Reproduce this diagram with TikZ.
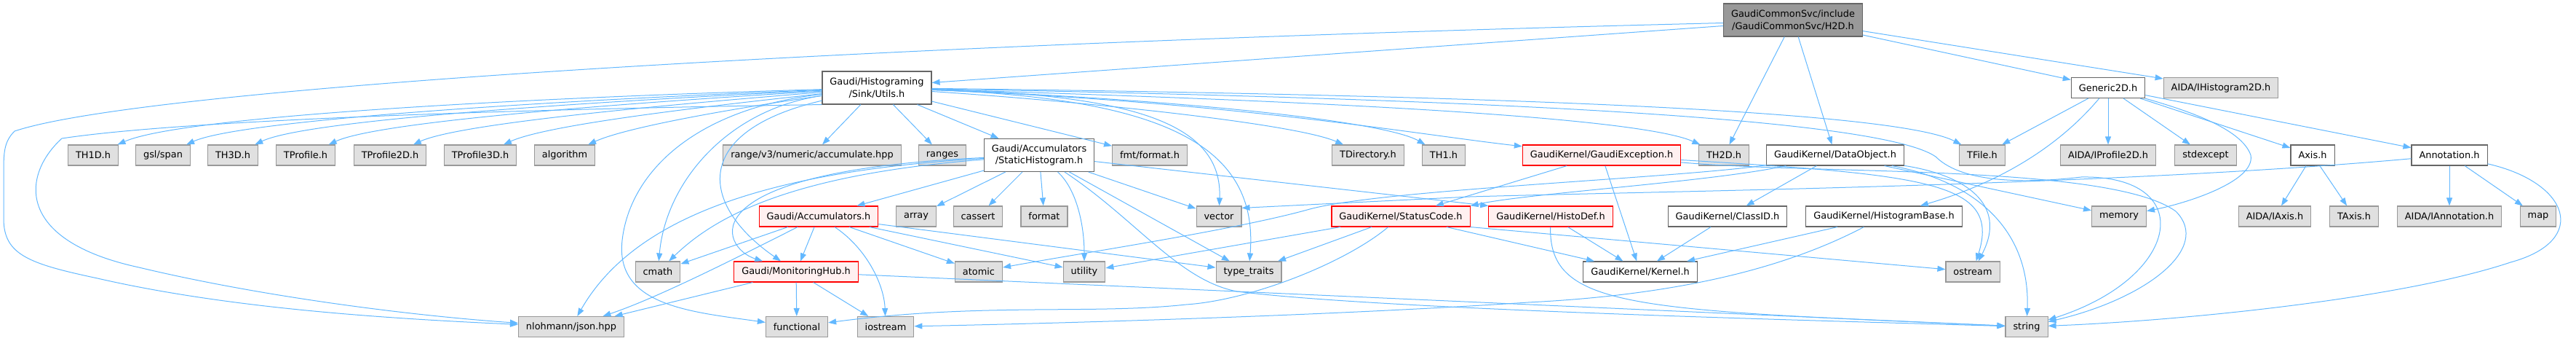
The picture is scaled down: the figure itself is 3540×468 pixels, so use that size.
\documentclass[tikz,border=0pt]{standalone}
\usepackage{fontspec}
\setmainfont{DejaVu Sans}
\usetikzlibrary{arrows.meta}
\definecolor{edgeblue}{HTML}{63B8FF}
\definecolor{rootfill}{HTML}{999999}
\definecolor{rootdraw}{HTML}{666666}
\definecolor{sysfill}{HTML}{E0E0E0}
\definecolor{sysdraw}{HTML}{999999}
\definecolor{truncfill}{HTML}{FFF0F0}
\begin{document}
\begin{tikzpicture}[x=1pt, y=-1pt]
    \tikzstyle{filebox}=[rectangle, draw, line width=1.1pt, inner xsep=10.5pt, inner ysep=3pt, minimum height=28pt, align=center, font=\fontsize{12.9}{16.5}\selectfont]
    \tikzstyle{rootfile}=[filebox, draw=rootdraw, fill=rootfill]
    \tikzstyle{docfile}=[filebox, draw=rootdraw, fill=white]
    \tikzstyle{truncfile}=[filebox, draw=red, fill=truncfill]
    \tikzstyle{sysfile}=[filebox, draw=sysdraw, fill=sysfill]
    \tikzstyle{twoline}=[minimum height=45pt]
    \tikzstyle{dep}=[draw=edgeblue, line width=1pt, -{Triangle[length=11pt,width=8pt]}]
    \useasboundingbox (0,0) rectangle (3540,468);
    % files
    \node[rootfile, twoline] (h2d) at (2464,27.5) {GaudiCommonSvc/include\\/GaudiCommonSvc/H2D.h};
    \node[docfile, twoline] (utils) at (1205,120.5) {Gaudi/Histograming\\/Sink/Utils.h};
    \node[docfile] (generic2d) at (2897,120.5) {Generic2D.h};
    \node[sysfile] (ihist2d) at (3052,120.5) {AIDA/IHistogram2D.h};
    \node[sysfile] (th1d) at (128,213) {TH1D.h};
    \node[sysfile] (gslspan) at (224,213) {gsl/span};
    \node[sysfile] (th3d) at (320,213) {TH3D.h};
    \node[sysfile] (tprofile) at (420,213) {TProfile.h};
    \node[sysfile] (tprofile2d) at (536,213) {TProfile2D.h};
    \node[sysfile] (tprofile3d) at (660,213) {TProfile3D.h};
    \node[sysfile] (algorithm) at (776,213) {algorithm};
    \node[sysfile] (rangev3) at (1116,213) {range/v3/numeric/accumulate.hpp};
    \node[sysfile] (ranges) at (1295,213) {ranges};
    \node[docfile, twoline] (statichist) at (1428,213) {Gaudi/Accumulators\\/StaticHistogram.h};
    \node[sysfile] (fmtformat) at (1580,213) {fmt/format.h};
    \node[sysfile] (tdirectory) at (1880,213) {TDirectory.h};
    \node[sysfile] (th1) at (1984,213) {TH1.h};
    \node[truncfile] (gaudiexc) at (2201,213) {GaudiKernel/GaudiException.h};
    \node[sysfile] (th2d) at (2369,213) {TH2D.h};
    \node[docfile] (dataobject) at (2522,213) {GaudiKernel/DataObject.h};
    \node[sysfile] (tfile) at (2724,213) {TFile.h};
    \node[sysfile] (iprofile2d) at (2897,213) {AIDA/IProfile2D.h};
    \node[sysfile] (stdexcept) at (3031,213) {stdexcept};
    \node[docfile] (axis) at (3178,213) {Axis.h};
    \node[docfile] (annotation) at (3366,213) {Annotation.h};
    \node[truncfile] (accumulators) at (1125,297) {Gaudi/Accumulators.h};
    \node[sysfile] (array) at (1259,297) {array};
    \node[sysfile] (cassert) at (1344,297) {cassert};
    \node[sysfile] (format) at (1435,297) {format};
    \node[sysfile] (vector) at (1675,297) {vector};
    \node[truncfile] (statuscode) at (1925,297) {GaudiKernel/StatusCode.h};
    \node[truncfile] (histodef) at (2131,297) {GaudiKernel/HistoDef.h};
    \node[docfile] (classid) at (2374,297) {GaudiKernel/ClassID.h};
    \node[docfile] (histbase) at (2589,297) {GaudiKernel/HistogramBase.h};
    \node[sysfile] (memory) at (2912,297) {memory};
    \node[sysfile] (iaxis) at (3126,297) {AIDA/IAxis.h};
    \node[sysfile] (taxis) at (3235,297) {TAxis.h};
    \node[sysfile] (iannotation) at (3366,297) {AIDA/IAnnotation.h};
    \node[sysfile] (map) at (3488,297) {map};
    \node[sysfile] (cmath) at (904,373) {cmath};
    \node[truncfile] (monhub) at (1094,373) {Gaudi/MonitoringHub.h};
    \node[sysfile] (atomic) at (1345,373) {atomic};
    \node[sysfile] (utility) at (1490,373) {utility};
    \node[sysfile] (typetraits) at (1716,373) {type\_traits};
    \node[docfile] (kernel) at (2254,373) {GaudiKernel/Kernel.h};
    \node[sysfile] (ostream) at (2711,373) {ostream};
    \node[sysfile] (json) at (785,448.5) {nlohmann/json.hpp};
    \node[sysfile] (functional) at (1095,448.5) {functional};
    \node[sysfile] (iostream) at (1217,448.5) {iostream};
    \node[sysfile] (string) at (2785,448.5) {string};
    % H2D.h
    \draw[dep] ([yshift=-8pt]h2d.west) -- ([yshift=7pt]utils.east);
    \draw[dep] ([yshift=-4pt]h2d.west) .. controls (1200,60) and (200,120) .. (20,180) .. controls (5,195) and (5,210) .. (5,240) -- (5,300) .. controls (5,350) and (40,362) .. (134,382) .. controls (300,420) and (500,436) .. (json);
    \draw[dep] (h2d) -- (th2d);
    \draw[dep] (h2d) -- (dataobject);
    \draw[dep] (h2d) -- (generic2d);
    \draw[dep] (h2d) -- (ihist2d);
    % Utils.h
    \draw[dep] (utils) .. controls (700,135) and (250,160) .. (th1d);
    \draw[dep] (utils) .. controls (750,138) and (330,165) .. (gslspan);
    \draw[dep] (utils) .. controls (800,140) and (420,165) .. (th3d);
    \draw[dep] (utils) .. controls (850,142) and (520,167) .. (tprofile);
    \draw[dep] (utils) .. controls (900,145) and (630,170) .. (tprofile2d);
    \draw[dep] (utils) .. controls (950,148) and (750,172) .. (tprofile3d);
    \draw[dep] (utils) .. controls (1000,150) and (860,175) .. (algorithm);
    \draw[dep] (utils.south west) .. controls (700,150) and (250,165) .. (85,190) .. controls (30,240) and (20,330) .. (191,367) .. controls (350,405) and (550,432) .. (json);
    \draw[dep] (utils) -- (rangev3);
    \draw[dep] (utils) -- (ranges);
    \draw[dep] (utils) -- (statichist);
    \draw[dep] (utils) -- (fmtformat);
    \draw[dep] (utils) .. controls (1560,130) and (1680,170) .. (vector);
    \draw[dep] (utils) .. controls (1600,135) and (1730,200) .. (typetraits);
    \draw[dep] (utils) .. controls (1500,140) and (1780,170) .. (tdirectory);
    \draw[dep] (utils) .. controls (1600,135) and (1900,165) .. (th1);
    \draw[dep] (utils) .. controls (1700,140) and (1950,185) .. (gaudiexc);
    \draw[dep] (utils) .. controls (1800,138) and (2250,160) .. (th2d);
    \draw[dep] (utils) .. controls (2000,130) and (2600,150) .. (tfile);
    \draw[dep] (utils) .. controls (2000,135) and (2580,160) .. (2660,215) .. controls (2700,255) and (2800,250) .. (2860,243) .. controls (3020,240) and (3000,380) .. (string);
    \draw[dep] (utils) .. controls (1000,150) and (915,250) .. (cmath);
    \draw[dep] (utils) .. controls (950,180) and (960,280) .. (monhub);
    \draw[dep] (utils) .. controls (950,150) and (865,240) .. (855,330) .. controls (845,420) and (950,428) .. (functional);
    % StaticHistogram.h
    \draw[dep] (statichist) -- (accumulators);
    \draw[dep] (statichist) -- (array);
    \draw[dep] (statichist) -- (cassert);
    \draw[dep] (statichist) -- (format);
    \draw[dep] (statichist) .. controls (1480,260) and (1490,310) .. (utility);
    \draw[dep] (statichist) -- (vector);
    \draw[dep] (statichist) -- (typetraits);
    \draw[dep] (statichist) .. controls (1560,300) and (1620,385) .. (1700,400) .. controls (1900,425) and (2500,440) .. (string);
    \draw[dep] (statichist) -- (histodef.north west);
    \draw[dep] (statichist) .. controls (1050,235) and (870,300) .. (json);
    \draw[dep] (statichist) .. controls (1080,240) and (980,300) .. (cmath);
    \draw[dep] (statichist) .. controls (940,235) and (990,340) .. (monhub);
    % Accumulators.h
    \draw[dep] (accumulators) -- (cmath);
    \draw[dep] (accumulators) .. controls (1000,360) and (900,410) .. (json);
    \draw[dep] (accumulators) -- (monhub);
    \draw[dep] (accumulators) .. controls (1190,340) and (1215,390) .. (iostream);
    \draw[dep] (accumulators) -- (atomic);
    \draw[dep] (accumulators) -- (utility);
    \draw[dep] (accumulators) -- (typetraits);
    % MonitoringHub.h
    \draw[dep] (monhub) -- (json);
    \draw[dep] (monhub) -- (functional);
    \draw[dep] (monhub) -- (iostream);
    \draw[dep] (monhub) -- (string);
    % StatusCode.h
    \draw[dep] (statuscode) -- (utility);
    \draw[dep] (statuscode) -- (typetraits);
    \draw[dep] (statuscode) .. controls (1850,360) and (1720,412) .. (1630,418) .. controls (1500,432) and (1350,415) .. (functional);
    \draw[dep] (statuscode) -- (kernel);
    \draw[dep] (statuscode.south east) -- (ostream);
    % GaudiException.h
    \draw[dep] (gaudiexc) -- (statuscode);
    \draw[dep] (gaudiexc) -- (kernel);
    \draw[dep] (gaudiexc) .. controls (2650,240) and (2750,250) .. (ostream);
    \draw[dep] (gaudiexc) .. controls (2500,240) and (2900,225) .. (2990,290) .. controls (3040,340) and (2950,410) .. (string);
    % DataObject.h
    \draw[dep] (dataobject) .. controls (2350,250) and (2100,265) .. (statuscode.north east);
    \draw[dep] (dataobject) -- (classid);
    \draw[dep] (dataobject) -- (memory);
    \draw[dep] (dataobject) .. controls (2700,240) and (2760,280) .. (ostream);
    \draw[dep] (dataobject) .. controls (2720,250) and (2790,320) .. (string);
    \draw[dep] (dataobject) .. controls (2300,245) and (1900,260) .. (1800,287) .. controls (1700,315) and (1500,345) .. (atomic);
    % HistoDef.h, ClassID.h, HistogramBase.h
    \draw[dep] (histodef) -- (kernel);
    \draw[dep] (histodef) .. controls (2128,425) and (2250,425) .. (string);
    \draw[dep] (classid) -- (kernel);
    \draw[dep] (histbase) -- (kernel);
    \draw[dep] (histbase) .. controls (2450,370) and (2300,405) .. (2100,415) .. controls (1800,435) and (1400,445) .. (iostream);
    % Generic2D.h
    \draw[dep] (generic2d) -- (tfile);
    \draw[dep] (generic2d) .. controls (2830,200) and (2750,250) .. (histbase);
    \draw[dep] (generic2d) -- (iprofile2d);
    \draw[dep] (generic2d) -- (stdexcept);
    \draw[dep] (generic2d) .. controls (3000,150) and (3080,175) .. (3093,213) .. controls (3100,250) and (3000,280) .. (memory);
    \draw[dep] (generic2d) -- (axis);
    \draw[dep] (generic2d) -- (annotation);
    % Annotation.h, Axis.h
    \draw[dep] (annotation) -- (iannotation);
    \draw[dep] (annotation) -- (map);
    \draw[dep] (annotation) .. controls (2900,255) and (2300,262) .. (2020,270) -- ([yshift=-3pt]vector.north east);
    \draw[dep] (annotation) .. controls (3530,250) and (3560,330) .. (3450,360) .. controls (3300,410) and (3000,440) .. (string);
    \draw[dep] (axis) -- (iaxis);
    \draw[dep] (axis) -- (taxis);
\end{tikzpicture}
\end{document}
